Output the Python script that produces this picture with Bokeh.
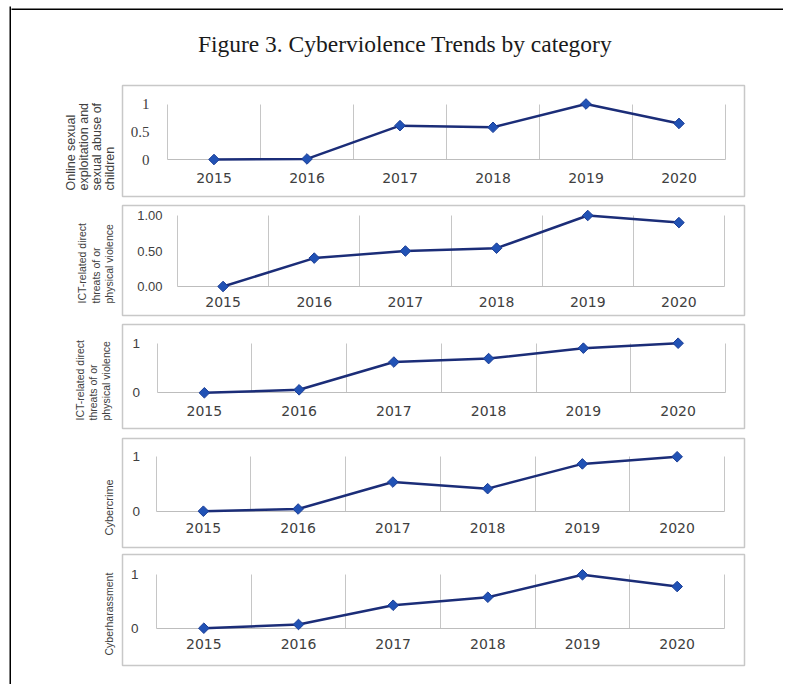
import math
from bokeh.plotting import figure
from bokeh.models import Range1d, FixedTicker, Title, Grid
from bokeh.layouts import column, row
from bokeh.embed import file_html
from bokeh.resources import INLINE

# ---------------- data ----------------
title_text = "Figure 3. Cyberviolence Trends by category"
years = [2015, 2016, 2017, 2018, 2019, 2020]

category_labels = [
    "Online sexual\nexploitation and\nsexual abuse of\nchildren",
    "ICT-related direct\nthreats of or\nphysical violence",
    "ICT-related direct\nthreats of or\nphysical violence",
    "Cybercrime",
    "Cyberharassment",
]

online_sexual_exploitation = [0.0, 0.01, 0.61, 0.58, 1.0, 0.65]
ict_threats_a = [0.0, 0.40, 0.50, 0.54, 1.0, 0.90]
ict_threats_b = [0.0, 0.06, 0.62, 0.69, 0.90, 1.0]
cybercrime = [0.0, 0.04, 0.53, 0.41, 0.86, 0.99]
cyberharassment = [0.0, 0.07, 0.43, 0.58, 1.0, 0.78]
series = [online_sexual_exploitation, ict_threats_a, ict_threats_b, cybercrime, cyberharassment]

y_ticks_1 = [0, 0.5, 1]
y_tick_labels_1 = ["0", "0.5", "1"]
y_ticks_2 = [0, 0.5, 1]
y_tick_labels_2 = ["0.00", "0.50", "1.00"]
y_ticks_3 = [0, 1]
y_tick_labels_3 = ["0", "1"]
y_ticks_4 = [0, 1]
y_tick_labels_4 = ["0", "1"]
y_ticks_5 = [0, 1]
y_tick_labels_5 = ["0", "1"]
y_ticks = [y_ticks_1, y_ticks_2, y_ticks_3, y_ticks_4, y_ticks_5]
y_tick_labels = [y_tick_labels_1, y_tick_labels_2, y_tick_labels_3, y_tick_labels_4, y_tick_labels_5]

# ---------------- layout (page pixel geometry) ----------------
COL_X0 = 11          # column starts here (left black rule occupies 9..11)
COL_X1 = 783
COL_W = COL_X1 - COL_X0

panels = [
    dict(top=80, h=120, box=(122, 744, 85, 196), area=(167, 725, 103.5, 159), xs=13, ys=18,
         yfont="Liberation Serif", ysize="15px", lsize="12.5px", lh=0.95, loff=6, lstand=10),
    dict(top=200, h=119, box=(122, 744, 205, 315), area=(177, 724, 215, 286), xs=10, ys=15,
         yfont="Liberation Sans", ysize="13px", lsize="10.5px", lh=1.15, loff=12, lstand=14),
    dict(top=319, h=114, box=(122, 744, 324, 428), area=(156.5, 725, 342.7, 392.3), xs=13, ys=17,
         yfont="Liberation Sans", ysize="13.5px", lsize="10.5px", lh=1.1, loff=8, lstand=20),
    dict(top=433, h=117, box=(122, 744, 438, 547), area=(155.5, 724, 455.7, 510.7), xs=12, ys=16,
         yfont="Liberation Sans", ysize="13.5px", lsize="11px", lh=1.1, loff=12, lstand=16),
    dict(top=550, h=125, box=(122, 744, 554, 665), area=(156, 724, 574.3, 627.7), xs=11, ys=18,
         yfont="Liberation Sans", ysize="13.5px", lsize="10.5px", lh=1.1, loff=10, lstand=16),
]

LINE_COLOR = "#1b2d78"
MARKER_FILL = "#2152b5"
GRID_COLOR = "#c6c6c6"
BOX_COLOR = "#c8c8c8"
TEXT_COLOR = "#404040"

HAS_CROSS = "cross_bounds" in Grid.properties()


def no_align(p):
    if "frame_align" in p.properties():
        p.frame_align = False
    return p


# ---------------- page rules (black frame of the scanned page) ----------------
left_rule = no_align(figure(width=COL_X0, height=684, toolbar_location=None, output_backend="svg",
                            x_axis_type=None, y_axis_type=None,
                            min_border_left=9, min_border_right=0, min_border_top=6, min_border_bottom=0))
left_rule.background_fill_color = "black"
left_rule.border_fill_color = "white"
left_rule.outline_line_color = None

top_rule = no_align(figure(width=COL_W, height=10, toolbar_location=None, output_backend="svg",
                           x_axis_type=None, y_axis_type=None,
                           min_border_left=0, min_border_right=0, min_border_top=6, min_border_bottom=2))
top_rule.background_fill_color = "black"
top_rule.border_fill_color = "white"
top_rule.outline_line_color = None

# ---------------- title figure ----------------
tp = no_align(figure(width=COL_W, height=70, toolbar_location=None, output_backend="svg",
                     x_axis_type=None, y_axis_type=None, title=title_text,
                     min_border_left=15, min_border_right=0, min_border_top=46, min_border_bottom=0))
tp.outline_line_color = None
tp.title.align = "center"
tp.title.text_font = "Liberation Serif"
tp.title.text_font_size = "23.5px"
tp.title.text_font_style = "normal"
tp.title.text_color = "#1a1a1a"
tp.title.standoff = 0

figs = [top_rule, tp]

# ---------------- panels ----------------
for i, spec in enumerate(panels):
    top, h = spec["top"], spec["h"]
    bx0, bx1, by0, by1 = spec["box"]
    ax0, ax1, ay0, ay1 = spec["area"]
    n = len(years)
    px_per_x = (ax1 - ax0) / n
    px_per_y = (ay1 - ay0) / (max(y_ticks[i]) - min(y_ticks[i]))
    xr = Range1d(years[0] - 0.5 - (ax0 - bx0) / px_per_x, years[-1] + 0.5 + (bx1 - ax1) / px_per_x)
    yr = Range1d(min(y_ticks[i]) - (by1 - ay1) / px_per_y, max(y_ticks[i]) + (ay0 - by0) / px_per_y)

    p = no_align(figure(width=COL_W, height=h, toolbar_location=None, output_backend="svg",
                        x_range=xr, y_range=yr,
                        min_border_left=bx0 - COL_X0, min_border_right=COL_X1 - bx1,
                        min_border_top=by0 - top, min_border_bottom=top + h - by1))
    p.outline_line_color = BOX_COLOR
    p.outline_line_width = 1.5
    p.background_fill_color = "white"
    p.border_fill_color = "white"

    boundaries = [y - 0.5 for y in years] + [years[-1] + 0.5]
    p.ygrid.visible = False
    if HAS_CROSS:
        p.xgrid.ticker = FixedTicker(ticks=boundaries)
        p.xgrid.cross_bounds = (min(y_ticks[i]), max(y_ticks[i]))
        p.xgrid.grid_line_color = GRID_COLOR
        p.xgrid.grid_line_width = 1
    else:
        p.xgrid.visible = False
        p.segment(x0=boundaries, y0=[min(y_ticks[i])] * len(boundaries),
                  x1=boundaries, y1=[max(y_ticks[i])] * len(boundaries),
                  line_color=GRID_COLOR, line_width=1)

    # x axis sitting on the zero line, inside the box
    xa = p.xaxis[0]
    xa.fixed_location = min(y_ticks[i])
    xa.bounds = (years[0] - 0.5, years[-1] + 0.5)
    xa.ticker = FixedTicker(ticks=years)
    xa.major_label_overrides = {y: str(y) for y in years}
    xa.axis_line_color = "#bdbdbd"
    xa.axis_line_width = 1
    xa.major_tick_line_color = None
    xa.minor_tick_line_color = None
    xa.major_tick_out = 0
    xa.major_tick_in = 0
    xa.major_label_standoff = spec["xs"]
    xa.major_label_text_font = "DejaVu Sans"
    xa.major_label_text_font_size = "14px"
    xa.major_label_text_color = TEXT_COLOR

    # y axis on the left edge of the plotting area, inside the box
    ya = p.yaxis[0]
    ya.fixed_location = years[0] - 0.5
    ya.ticker = FixedTicker(ticks=y_ticks[i])
    ya.major_label_overrides = {t: l for t, l in zip(y_ticks[i], y_tick_labels[i])}
    ya.axis_line_color = None
    ya.major_tick_line_color = None
    ya.minor_tick_line_color = None
    ya.major_tick_out = 0
    ya.major_tick_in = 0
    ya.major_label_standoff = spec["ys"]
    ya.major_label_text_font = spec["yfont"]
    ya.major_label_text_font_size = spec["ysize"]
    ya.major_label_text_color = TEXT_COLOR

    # category name, outside the box on the left
    p.add_layout(Title(text=category_labels[i], align="left", vertical_align="bottom",
                       offset=spec["loff"], standoff=spec["lstand"],
                       text_font="Liberation Sans", text_font_size=spec["lsize"],
                       text_font_style="normal", text_color=TEXT_COLOR,
                       text_line_height=spec["lh"]), "left")

    # data
    p.line(years, series[i], line_color=LINE_COLOR, line_width=2.5, level="overlay")
    p.scatter(years, series[i], marker="square", angle=math.pi / 4, size=7.5,
              fill_color=MARKER_FILL, line_color="#1a3d96", line_width=1, level="overlay")
    figs.append(p)

layout = row(left_rule, column(*figs, spacing=0), spacing=0)
open("out.html", "w").write(file_html(layout, INLINE))
